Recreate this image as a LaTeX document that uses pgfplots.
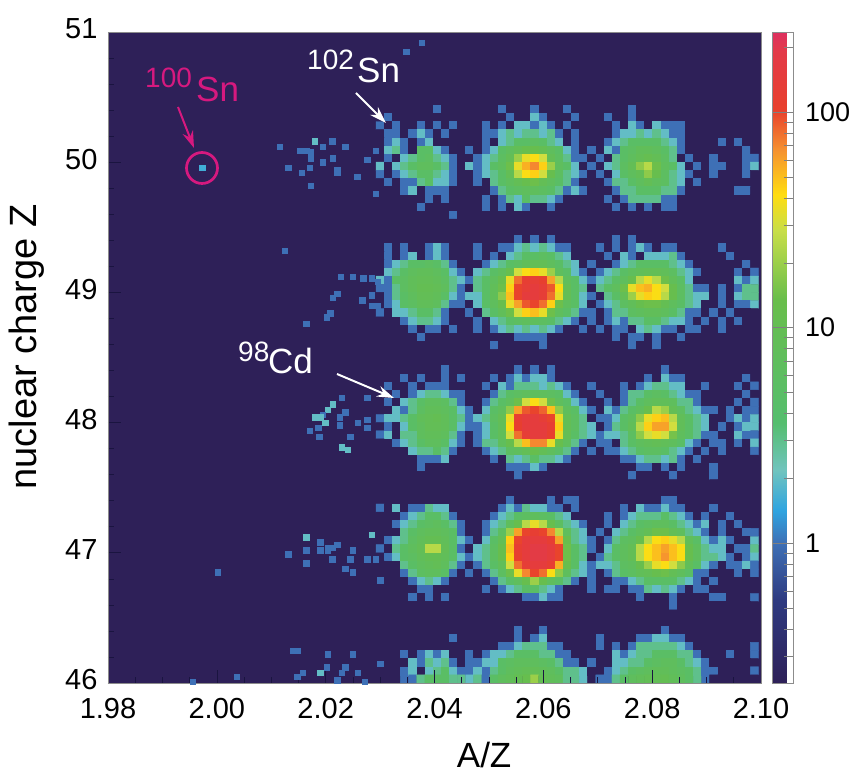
\documentclass[border=0pt]{standalone}
\usepackage{pgfplots}
\pgfplotsset{compat=1.18}
\usepackage{pgfplotstable}
\usepackage{fontspec}
\setmainfont{Liberation Sans}
\usetikzlibrary{arrows.meta}
\definecolor{bgc}{RGB}{46,32,88}
\definecolor{mag}{HTML}{D6197F}
\definecolor{tickc}{HTML}{1A1440}

\pgfplotstableread[header=false]{
0 0 0 0 0 0 0 0 0 0  0 0 0 0 0 0 0 0 0 0  0 0 0 0 0 0 0 0 0 0  0 0 0 0 0 0 0 0 0 0  0 0 0 0 0 0 0
0 0 0 0 0 0 0 1 0 0  0 0 0 0 0 1 0 0 0 1  0 0 0 1 0 0 0 0 0 0  0 1 0 0 0 0 0 0 0 0  0 0 0 0 0 0 0
0 1 0 0 0 0 0 0 0 0  0 0 0 0 0 0 1 0 0 2  1 0 0 0 1 0 0 0 1 0  0 1 0 0 0 0 0 0 0 0  0 0 0 0 0 0 0
1 0 1 0 0 1 0 1 0 1  0 0 0 1 0 1 0 2 2 1  2 1 0 1 0 0 0 0 0 1  0 2 1 0 2 1 1 1 0 0  0 0 0 0 0 0 0
0 1 1 0 1 2 1 0 1 0  0 0 0 1 1 2 3 2 3 3  2 3 1 0 1 0 0 0 0 1  2 2 3 2 3 2 1 1 0 0  0 0 0 0 0 0 0
0 1 2 1 0 1 2 0 0 0  0 0 0 1 0 2 3 5 5 6  5 3 2 0 1 0 0 0 1 2  3 5 5 5 5 3 2 1 0 0  0 0 1 0 1 0 0
0 2 3 1 0 5 5 2 1 0  0 1 0 1 2 5 7 9 12 12  10 7 5 2 1 0 1 0 2 1  5 6 8 8 7 5 3 1 0 0  0 0 0 0 0 1 0
0 1 0 2 3 5 6 3 2 1  0 0 1 2 3 6 9 20 35 40  30 9 6 3 1 1 0 1 0 3  5 7 9 11 9 6 3 0 1 0  0 1 0 0 0 1 1
2 0 2 3 5 7 7 5 3 1  0 2 1 2 5 7 14 35 55 70  45 20 7 5 2 0 1 0 2 3  6 9 18 25 14 7 5 2 0 1  0 1 1 0 0 1 2
1 0 1 2 3 5 5 3 2 1  0 0 1 2 3 5 9 25 40 45  30 12 6 3 2 1 0 1 0 2  5 7 9 18 12 6 3 2 1 0  0 1 0 0 0 1 0
0 1 0 1 1 3 5 2 2 1  0 0 1 0 3 5 7 9 12 14  9 7 5 3 1 0 0 0 1 3  3 5 7 9 7 6 3 2 0 1  0 0 0 0 0 0 0
0 0 0 1 2 0 1 1 1 0  0 0 0 0 1 3 5 6 7 7  6 5 3 1 2 1 0 0 0 1  3 3 5 5 5 3 3 1 0 0  0 0 0 0 1 1 0
0 0 0 0 0 0 1 0 1 0  0 0 0 1 0 1 3 2 5 3  3 2 1 0 0 0 0 0 1 0  1 3 3 3 3 1 1 0 0 0  0 0 0 0 0 0 0
0 0 0 0 0 1 0 0 0 0  0 0 0 1 0 1 0 2 1 0  0 1 0 0 0 0 0 0 0 1  0 1 0 1 0 1 1 0 0 0  0 0 0 0 0 0 0
0 0 0 0 0 0 0 0 0 1  0 0 0 0 0 0 0 0 0 0  0 0 0 0 0 0 0 0 0 0  0 0 0 0 0 0 0 0 0 0  0 0 0 0 0 0 0
0 0 0 0 0 0 0 0 0 0  0 0 0 0 0 0 0 0 0 0  0 0 0 0 0 0 0 0 0 0  0 0 0 0 0 0 0 0 0 0  0 0 0 0 0 0 0
}\bandfifty

\pgfplotstableread[header=false]{
0 0 0 0 0 0 0 0 0 0  0 0 0 0 0 0 0 0 0 0  0 0 0 0 0 0 0 0 0 0  0 0 0 0 0 0 0 0 0 0  0 0 0 0 0 0 0
0 0 0 0 0 0 0 0 0 0  0 0 0 0 0 0 0 1 0 1  0 1 0 0 0 0 0 0 0 1  0 1 0 0 0 0 0 0 0 0  0 0 0 0 0 0 0
0 1 0 1 0 0 1 2 1 0  0 0 1 0 0 1 1 2 3 2  3 2 1 1 0 0 0 1 0 1  0 1 2 1 0 1 1 0 0 0  0 0 1 0 0 0 0
0 1 0 1 2 0 1 2 1 0  0 0 1 0 1 0 2 3 5 5  6 5 3 2 0 0 0 0 1 0  2 1 0 2 2 2 3 1 0 0  0 0 0 1 0 0 0
0 1 2 3 5 5 6 5 3 1  0 0 0 1 2 3 5 6 8 9  9 7 5 3 2 0 1 0 0 1  2 3 5 5 5 5 3 2 1 0  0 0 0 0 0 1 0
0 2 3 5 7 8 8 7 5 2  1 0 2 3 5 7 12 30 40 45  35 20 7 5 2 1 0 1 2 3  5 7 8 9 9 8 6 3 2 1  0 0 0 0 1 0 1
2 1 5 6 8 9 9 8 6 3  2 1 3 5 7 12 35 80 120 130  110 60 25 7 5 2 1 2 3 5  7 12 25 35 25 14 8 5 2 0  0 0 0 0 2 1 2
1 1 3 6 8 10 10 9 7 3  1 0 3 5 8 14 45 100 130 150  130 90 40 9 5 3 0 3 5 7  14 35 50 55 40 30 12 6 3 1  1 0 1 0 1 3 3
0 1 3 5 7 9 9 8 5 2  1 2 2 5 8 18 50 100 150 150  130 80 35 9 5 2 1 0 3 5  9 20 35 45 40 25 12 6 3 2  2 0 1 0 2 3 3
0 1 2 5 6 8 8 7 3 1  1 0 2 5 7 12 35 60 90 100  80 45 14 7 5 2 0 1 2 3  6 8 12 14 14 10 7 5 3 2  0 0 1 0 1 1 2
1 0 2 2 3 5 5 3 1 0  0 1 0 3 5 8 14 30 45 50  35 14 7 5 3 1 1 0 1 3  3 6 7 8 8 7 5 3 1 1  0 1 0 1 0 0 0
0 0 0 1 2 3 3 2 1 0  0 0 1 0 2 3 5 6 7 7  6 5 3 2 1 0 1 0 1 2  1 3 3 5 5 3 2 2 1 0  1 0 1 0 1 0 0
0 0 0 0 1 0 1 1 0 1  0 0 1 0 1 2 3 2 3 2  3 2 1 0 0 1 0 1 0 1  1 0 2 3 2 1 1 0 1 1  0 0 1 0 0 0 0
0 0 0 0 0 1 0 0 0 0  0 0 0 0 0 0 0 1 1 1  1 0 0 0 0 0 0 0 0 1  0 1 1 0 1 0 0 1 0 0  0 0 0 0 0 0 0
0 0 0 0 0 0 0 0 0 0  0 0 0 0 1 0 0 0 0 0  1 0 0 0 0 0 0 0 0 0  0 1 0 0 1 0 0 0 0 0  0 0 0 0 0 0 0
0 0 0 0 0 0 0 0 0 0  0 0 0 0 0 0 0 0 0 0  0 0 0 0 0 0 0 0 0 0  0 0 0 0 0 0 0 0 0 0  0 0 0 0 0 0 0
}\bandfortynine

\pgfplotstableread[header=false]{
0 0 0 0 0 0 0 0 0 0  0 0 0 0 0 0 0 0 0 0  0 0 0 0 0 0 0 0 0 0  0 0 0 0 0 0 0 0 0 0  0 0 0 0 0 0 0
0 0 0 0 0 0 0 0 1 0  0 0 0 0 0 0 0 1 0 1  0 1 0 0 0 0 0 0 0 0  0 0 0 0 0 1 0 0 0 0  0 0 0 0 0 0 0
0 0 0 1 0 1 0 0 1 0  1 0 0 0 1 0 1 2 1 2  2 1 0 0 0 0 0 0 0 0  0 0 0 1 0 2 1 1 0 0  0 0 0 0 0 1 0
0 1 0 0 1 0 1 1 1 0  0 0 0 1 0 2 1 3 3 3  2 3 2 1 0 0 1 0 0 0  1 0 1 2 3 3 2 2 0 0  1 0 0 0 1 0 1
0 0 1 0 1 2 3 3 2 1  1 0 0 0 1 3 5 6 7 7  7 6 5 2 1 0 0 1 0 0  1 3 3 5 6 5 3 2 1 1  0 0 0 0 0 1 0
0 1 0 2 3 5 7 7 6 3  1 0 0 1 3 5 7 14 30 40  30 14 7 5 2 1 0 0 1 0  1 3 5 7 8 8 7 3 3 1  0 0 0 0 1 0 1
0 0 2 1 3 6 8 8 7 5  2 1 0 2 5 7 18 60 90 100  85 50 18 7 5 2 1 0 2 1  3 5 7 12 25 20 9 6 3 2  1 1 0 1 0 1 1
1 2 2 3 5 8 9 10 8 5  3 1 2 3 6 9 35 120 150 150  130 100 35 9 6 3 0 1 1 2  5 7 18 35 45 50 25 8 5 3  2 0 0 1 2 1 2
0 1 0 2 5 7 9 9 8 5  2 1 1 2 5 8 40 110 150 150  150 120 45 9 6 3 2 0 1 3  5 8 25 45 60 60 30 8 5 3  2 0 1 0 1 2 2
1 2 0 3 3 7 8 8 7 3  1 0 1 2 5 8 30 80 130 150  150 110 35 9 5 3 2 1 2 2  3 6 18 30 35 30 15 7 5 3  1 1 0 0 2 1 1
0 0 1 2 3 5 7 7 5 2  1 0 1 3 3 7 12 25 50 70  70 35 12 7 3 1 0 1 1 0  3 5 7 8 9 8 7 5 2 1  0 1 1 0 1 0 2
0 0 0 0 2 3 3 5 3 1  0 0 0 1 2 3 6 7 9 12  9 7 5 3 1 0 1 0 1 1  2 3 5 6 6 5 3 2 1 0  1 0 1 0 0 0 1
0 0 0 0 0 1 1 1 2 0  0 0 0 0 1 0 3 2 3 5  3 3 2 1 0 0 0 0 0 0  1 1 2 3 3 2 3 1 0 1  0 0 0 0 0 0 0
0 0 0 0 0 1 0 0 0 0  0 0 0 0 0 0 1 1 1 2  1 0 0 0 0 0 0 0 0 0  0 0 1 1 0 1 0 1 0 0  0 1 0 0 0 0 0
0 0 0 0 0 0 0 0 0 0  0 0 0 0 0 0 0 1 0 0  0 0 0 0 0 0 0 0 0 0  0 1 0 0 0 0 1 0 0 0  0 1 0 0 0 0 0
0 0 0 0 0 0 0 0 0 0  0 0 0 0 0 0 0 0 0 0  0 0 0 0 0 0 0 0 0 0  0 0 0 0 0 0 0 0 0 0  0 0 0 0 0 0 0
}\bandfortyeight

\pgfplotstableread[header=false]{
0 0 0 0 0 0 0 0 0 0  0 0 0 0 0 0 0 0 0 0  0 0 0 0 0 0 0 0 0 0  0 0 0 0 0 0 0 0 0 0  0 0 0 0 0 0 0
0 0 0 0 0 0 0 0 0 0  0 0 0 0 0 0 1 0 0 0  0 1 0 1 1 0 0 0 0 0  0 0 0 0 0 1 1 0 0 0  0 0 0 0 0 0 0
1 0 2 0 1 1 3 2 2 0  0 0 0 0 0 1 2 1 3 2  2 1 1 0 1 0 0 0 0 0  1 0 2 1 1 2 1 1 0 0  0 1 0 0 0 0 0
0 0 0 1 2 3 5 5 3 1  0 0 0 0 1 2 3 5 6 7  6 5 3 2 0 0 0 0 1 0  1 2 3 3 3 5 3 2 1 0  1 0 0 1 0 0 0
0 0 1 2 3 5 6 7 5 3  1 0 0 1 2 3 7 12 25 35  25 12 6 3 2 1 0 0 1 0  2 3 5 6 7 7 5 3 2 1  2 0 1 0 1 0 0
0 0 0 3 5 7 8 8 7 5  1 0 0 1 3 6 20 60 100 120  100 70 25 7 3 2 0 1 0 2  3 5 7 9 14 14 9 7 3 2  1 0 1 0 0 1 1
0 1 2 3 6 8 10 10 8 5  2 1 0 2 5 9 45 100 150 150  150 120 60 12 3 2 1 0 1 3  6 7 12 25 40 45 35 25 8 5  2 1 2 1 0 0 2
1 0 3 5 7 9 25 25 9 5  1 0 2 3 6 12 50 120 150 180  180 150 100 14 5 3 1 0 2 5  7 9 25 40 50 60 50 40 12 7  3 2 2 0 1 1 3
0 1 2 5 6 8 10 10 8 5  2 1 2 3 6 12 45 110 150 180  180 150 100 14 5 3 0 1 3 5  7 9 25 40 50 65 50 40 12 7  3 3 2 1 0 1 2
0 0 0 3 5 7 8 9 7 3  1 0 1 3 5 8 30 80 130 150  150 120 55 12 5 2 1 2 2 3  6 7 12 20 35 40 30 18 8 5  2 1 0 1 1 2 1
0 0 0 1 3 6 7 7 5 1  0 1 0 1 3 6 14 35 70 100  80 40 18 7 3 2 1 0 1 3  5 6 8 9 12 14 9 7 5 1  1 0 0 0 1 0 1
0 0 0 0 1 2 3 2 1 0  0 0 0 0 1 3 5 7 12 20  12 7 5 3 1 0 1 0 0 1  1 2 3 5 5 5 5 3 2 1  0 1 0 0 0 0 0
0 0 0 0 0 1 1 0 0 0  0 0 0 1 0 1 2 3 5 5  3 2 1 0 0 0 1 0 1 1  0 1 1 3 2 3 2 1 0 1  1 0 0 0 0 0 0
0 0 0 0 1 0 1 0 1 0  0 0 0 0 0 0 0 0 1 1  2 1 1 0 0 0 0 0 0 0  0 0 1 0 0 0 1 0 0 0  0 1 1 0 0 0 1
0 0 0 0 0 0 0 0 0 0  0 0 0 0 0 0 0 0 0 0  0 0 0 0 0 0 0 0 0 0  0 0 0 0 0 0 1 0 0 0  0 0 0 0 0 0 0
0 0 0 0 0 0 0 0 0 0  0 0 0 0 0 0 0 0 0 0  0 0 0 0 0 0 0 0 0 0  0 0 0 0 0 0 0 0 0 0  0 0 0 0 0 0 0
}\bandfortyseven

\pgfplotstableread[header=false]{
0 0 0 0 0 0 0 0 0 0  0 0 0 0 0 0 0 0 0 0  0 0 0 0 0 0 0 0 0 0  0 0 0 0 0 0 0 0 0 0  0 0 0 0 0 0 0
0 0 0 0 0 0 0 0 0 0  0 0 0 0 0 0 0 1 0 0  1 0 0 0 0 0 0 0 0 0  0 0 0 0 0 1 0 0 0 0  0 0 0 0 0 0 0
0 0 0 0 0 0 0 0 0 1  0 0 0 0 0 0 0 1 0 1  2 0 0 0 0 0 0 1 0 0  0 0 1 1 2 2 1 1 0 0  0 0 0 0 0 0 0
0 0 0 0 0 0 0 0 0 0  0 0 0 0 0 1 1 2 3 3  3 1 1 0 0 0 0 1 0 1  0 1 3 3 3 3 3 2 1 0  0 0 0 0 0 0 1
0 0 0 1 0 1 2 1 2 0  0 1 0 1 2 2 3 5 5 5  3 3 1 1 0 0 0 0 0 2  1 2 3 3 5 5 5 3 3 1  0 0 0 1 0 0 1
0 0 0 0 2 1 3 2 3 1  0 1 1 2 2 5 6 7 7 7  6 5 3 1 1 0 1 0 0 2  2 3 3 5 6 7 7 5 3 2  1 0 0 0 0 0 0
0 0 0 1 2 0 2 3 5 2  1 1 2 1 3 5 7 8 9 9  8 7 5 3 3 2 0 0 1 2  3 5 6 7 8 8 7 6 5 3  1 1 0 0 0 0 1
0 0 0 1 1 3 5 5 5 3  3 2 3 1 5 7 8 10 12 20  10 8 7 3 3 2 0 1 1 3  5 7 8 9 9 10 8 7 5 3  1 0 0 0 0 0 0
}\bandfortysix

\pgfplotstableread{
x y v
1.9973 49.96 1.6
2.0348 50.85 1
2.0377 50.92 1
2.0002 46.85 1
2.0140 46.25 1
2.0037 46.05 1
1.9956 46.01 1
2.0147 46.05 1
2.0116 50.12 1
2.0153 50.09 1
2.0164 50.09 1
2.0173 50.08 1
2.0173 50.03 1
2.0180 50.16 2
2.0195 50.12 1
2.0212 50.16 1
2.0236 50.12 1
2.0195 50.00 1
2.0213 50.03 1
2.0221 49.94 1
2.0221 49.92 1
2.0131 49.96 1
2.0156 49.92 1
2.0171 49.96 1
2.0173 49.82 1
2.0258 49.89 1
2.0276 50.02 1
2.0292 50.09 1
2.0292 49.76 1
2.0125 49.32 1
2.0228 49.12 1
2.0250 49.12 1
2.0269 49.11 1
2.0285 49.11 1
2.0296 49.08 1
2.0213 48.96 1
2.0221 48.99 1
2.0208 48.84 1
2.0202 48.81 1
2.0164 48.76 1
2.0267 48.94 1
2.0285 48.98 1
2.0285 48.90 1
2.0296 48.90 1
2.0230 48.19 1
2.0276 48.19 1
2.0213 48.14 2
2.0204 48.10 2
2.0195 48.06 1
2.0180 48.04 2
2.0190 48.04 2
2.0199 48.00 2
2.0186 47.96 1
2.0171 47.94 1
2.0188 47.89 1
2.0226 48.04 1
2.0226 47.98 1
2.0236 48.08 1
2.0259 48.00 1
2.0276 48.02 1
2.0276 47.96 1
2.0245 47.89 1
2.0230 47.81 2
2.0241 47.79 2
2.0164 47.12 2
2.0190 47.08 1
2.0204 47.04 1
2.0213 47.04 1
2.0204 47.02 1
2.0221 47.06 1
2.0190 47.02 1
2.0164 47.02 1
2.0131 46.99 1
2.0212 46.95 1
2.0250 47.02 1
2.0245 46.95 1
2.0236 46.88 1
2.0250 46.85 1
2.0276 46.95 1
2.0292 46.95 1
2.0164 46.92 1
2.0300 46.79 1
2.0285 47.14 2
2.0149 46.25 1
2.0204 46.22 1
2.0250 46.22 1
2.0300 46.15 1
2.0202 46.12 1
2.0190 46.08 2
2.0236 46.12 1
2.0158 46.08 1
2.0149 46.05 1
2.0221 46.02 1
2.0259 46.08 1
2.0272 46.01 1
2.0230 46.08 1
}\speckle

% turn one wide table (rows top to bottom, 47 columns at 0.0015 spacing) into coordinates
\newcommand\buildcoords[3]{%
  \pgfplotstablegetrowsof{#1}%
  \pgfmathtruncatemacro\nrows{\pgfplotsretval-1}%
  \gdef#3{}%
  \pgfplotsforeachungrouped \rr in {0,...,\nrows}{%
    \pgfplotsforeachungrouped \cc in {0,...,46}{%
      \pgfplotstablegetelem{\rr}{[index]\cc}\of{#1}%
      \pgfmathsetmacro\mm{log10(max(\pgfplotsretval,0.225))}%
      \pgfmathsetmacro\xx{2.03+0.0015*\cc}%
      \pgfmathsetmacro\yy{#2-0.0625*\rr}%
      \xdef#3{#3 (\xx,\yy) [\mm]}%
    }%
  }%
}
\buildcoords{\bandfifty}{50.46875}{\coordsA}
\buildcoords{\bandfortynine}{49.46875}{\coordsB}
\buildcoords{\bandfortyeight}{48.46875}{\coordsC}
\buildcoords{\bandfortyseven}{47.46875}{\coordsD}
\buildcoords{\bandfortysix}{46.46875}{\coordsE}

\pgfplotsset{
  cells/.style={matrix plot*, mesh/cols=47, mesh/ordering=x varies, point meta=explicit},
}
\newcommand\bigfont{\fontsize{35}{37}\selectfont}
\newcommand\supfont{\fontsize{28}{30}\selectfont}
\newcommand\tickfont{\fontsize{29}{31}\selectfont}

\begin{document}
\begin{tikzpicture}[x=1pt,y=1pt]
\path[use as bounding box] (0,0) rectangle (849,771);
\begin{axis}[
  at={(108pt,88pt)}, anchor=south west,
  scale only axis, width=653pt, height=651pt,
  xmin=1.98, xmax=2.10, ymin=46, ymax=51,
  axis background/.style={fill=bgc},
  axis on top,
  axis line style={draw=black!45, line width=0.8pt},
  xtick={1.98,2.00,2.02,2.04,2.06,2.08,2.10},
  ytick={46,47,48,49,50,51},
  minor x tick num=3, minor y tick num=4,
  tick align=inside, tick pos=left,
  major tick length=13pt, minor tick length=6pt,
  tick style={draw=tickc, line width=0.6pt},
  /pgf/number format/assume math mode=true,
  x tick label style={font=\tickfont, /pgf/number format/fixed, /pgf/number format/fixed zerofill, /pgf/number format/precision=2, yshift=-12pt},
  y tick label style={font=\tickfont, /pgf/number format/fixed, /pgf/number format/precision=0, /pgf/number format/set thousands separator={}, yshift=3pt, xshift=-7pt},
  xlabel={A/Z}, ylabel={nuclear charge Z},
  every axis x label/.style={at={(axis description cs:0.576,-0.110)}, anchor=center, inner sep=0pt, font=\fontsize{35}{36}\selectfont},
  every axis y label/.style={at={(axis description cs:-0.124,0.516)}, rotate=90, anchor=center, inner sep=0pt, font=\fontsize{38}{40}\selectfont},
  colormap={nuclei}{
    rgb255(0)=(46,32,88)
    rgb255(127)=(46,58,128)
    rgb255(215)=(62,112,182)
    rgb255(265)=(47,164,224)
    rgb255(327)=(112,196,190)
    rgb255(400)=(85,190,110)
    rgb255(590)=(105,190,75)
    rgb255(695)=(200,222,72)
    rgb255(750)=(255,221,16)
    rgb255(820)=(245,144,48)
    rgb255(880)=(232,64,44)
    rgb255(970)=(227,58,72)
    rgb255(1000)=(221,48,96)
  },
  point meta min=-0.648, point meta max=2.371,
  colorbar,
  colorbar style={
    at={(parent axis.north east)}, anchor=north west, xshift=3pt,
    width=21pt,
    ytick={0,1,2},
    yticklabels={1,10,100},
    minor ytick={-0.523,-0.398,-0.301,-0.222,-0.155,-0.097,-0.046,0.301,0.477,0.602,0.699,0.778,0.845,0.903,0.954,1.301,1.477,1.602,1.699,1.778,1.845,1.903,1.954,2.301},
    tick align=inside,
    ytick pos=right, yticklabel pos=right,
    major tick length=21pt, minor tick length=10pt,
    tick style={draw=black!50, line width=0.4pt},
    axis line style={draw=black!45, line width=0.4pt},
    y tick label style={font=\fontsize{27}{29}\selectfont, xshift=8pt},
  },
]
\edef\tmp{\noexpand\addplot[cells] coordinates {\coordsA};}\tmp
\edef\tmp{\noexpand\addplot[cells] coordinates {\coordsB};}\tmp
\edef\tmp{\noexpand\addplot[cells] coordinates {\coordsC};}\tmp
\edef\tmp{\noexpand\addplot[cells] coordinates {\coordsD};}\tmp
\edef\tmp{\noexpand\addplot[cells] coordinates {\coordsE};}\tmp
\addplot[scatter, only marks, mark=square*, mark size=2.7pt, point meta=explicit,
  scatter/use mapped color={draw=mapped color, fill=mapped color}]
  table[x=x, y=y, meta expr={log10(\thisrow{v})}] {\speckle};
\end{axis}
% annotations, in picture pixels (y measured from the bottom)
\draw[mag, line width=2.7pt] (202,603) circle (15.5);
\draw[mag, line width=2pt, -{Stealth[length=17pt,width=11pt]}] (178,664) -- (194,623);
\node[mag, anchor=base west, inner sep=0, font=\supfont] at (145,683) {100};
\node[mag, anchor=base west, inner sep=0, font=\bigfont] at (196,669) {Sn};
\draw[white, line width=2pt, -{Stealth[length=17pt,width=11pt]}] (356,678) -- (386,648);
\node[white, anchor=base west, inner sep=0, font=\supfont] at (307,701) {102};
\node[white, anchor=base west, inner sep=0, font=\bigfont] at (357,688) {Sn};
\draw[white, line width=2pt, -{Stealth[length=17pt,width=11pt]}] (337,397) -- (394,373);
\node[white, anchor=base west, inner sep=0, font=\supfont] at (238,409) {98};
\node[white, anchor=base west, inner sep=0, font=\bigfont] at (268,397) {Cd};
\end{tikzpicture}
\end{document}
